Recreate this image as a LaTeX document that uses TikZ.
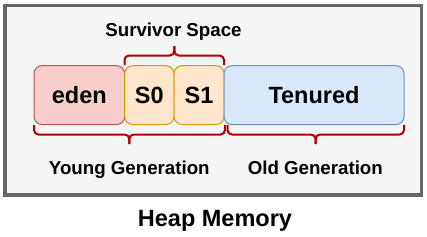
\documentclass[tikz,border=0pt]{standalone}
\usepackage{fontspec}
\setmainfont{Liberation Sans}
\definecolor{boxfill}{HTML}{F5F5F5}
\definecolor{boxline}{HTML}{666666}
\definecolor{edenfill}{HTML}{F8CECC}
\definecolor{edenline}{HTML}{B85450}
\definecolor{survfill}{HTML}{FFE6CC}
\definecolor{survline}{HTML}{D79B00}
\definecolor{tenfill}{HTML}{DAE8FC}
\definecolor{tenline}{HTML}{6C8EBF}
\definecolor{bracecol}{HTML}{B20000}
\tikzset{
  region/.style={rounded corners=8pt, line width=1pt},
  bigtext/.style={font=\fontsize{23.5}{26}\selectfont\bfseries, inner sep=0pt, anchor=base},
  midtext/.style={font=\fontsize{18.7}{22}\selectfont\bfseries, inner sep=0pt, anchor=base},
  bracestyle/.style={draw=bracecol, line width=2pt, rounded corners=4.5pt}
}
\begin{document}
\begin{tikzpicture}[x=1pt,y=-1pt]
\useasboundingbox (0,0) rectangle (427,236);
% heap box
\draw[line width=3.3pt, draw=boxline, fill=boxfill] (5,5.5) rectangle (421.7,195);
% regions
\draw[region, draw=edenline, fill=edenfill] (34,65.7) rectangle (124.7,124.5);
\draw[region, draw=survline, fill=survfill] (124.7,65.7) rectangle (174,124.5);
\draw[region, draw=survline, fill=survfill] (174,65.7) rectangle (224,124.5);
\draw[region, draw=tenline, fill=tenfill] (224,65.7) rectangle (404,124.5);
% labels
\node[bigtext] (eden) at (79.3,103.8) {eden};
\node[bigtext] (s0) at (149.3,103.8) {S0};
\node[bigtext] (s1) at (199,103.8) {S1};
\node[bigtext] (ten) at (314,103.8) {Tenured};
\node[midtext] (surv) at (173.5,36.7) {Survivor Space};
\node[midtext] (young) at (129.3,174) {Young Generation};
\node[midtext] (old) at (315.3,174) {Old Generation};
\node[bigtext] (heap) at (215,226.7) {Heap Memory};
% survivor brace (top)
\draw[bracestyle] (124.5,65) -- (124.5,55.5) -- (174.3,55.5) -- (174.3,46);
\draw[bracestyle] (224,65) -- (224,55.5) -- (174.3,55.5) -- (174.3,46);
% young brace (bottom)
\draw[bracestyle] (34,125) -- (34,134.5) -- (129.3,134.5) -- (129.3,144);
\draw[bracestyle] (225,125) -- (225,134.5) -- (129.3,134.5) -- (129.3,144);
% old brace (bottom)
\draw[bracestyle] (227.5,125) -- (227.5,134.5) -- (315.5,134.5) -- (315.5,144);
\draw[bracestyle] (404,125) -- (404,134.5) -- (315.5,134.5) -- (315.5,144);
\end{tikzpicture}
\end{document}
